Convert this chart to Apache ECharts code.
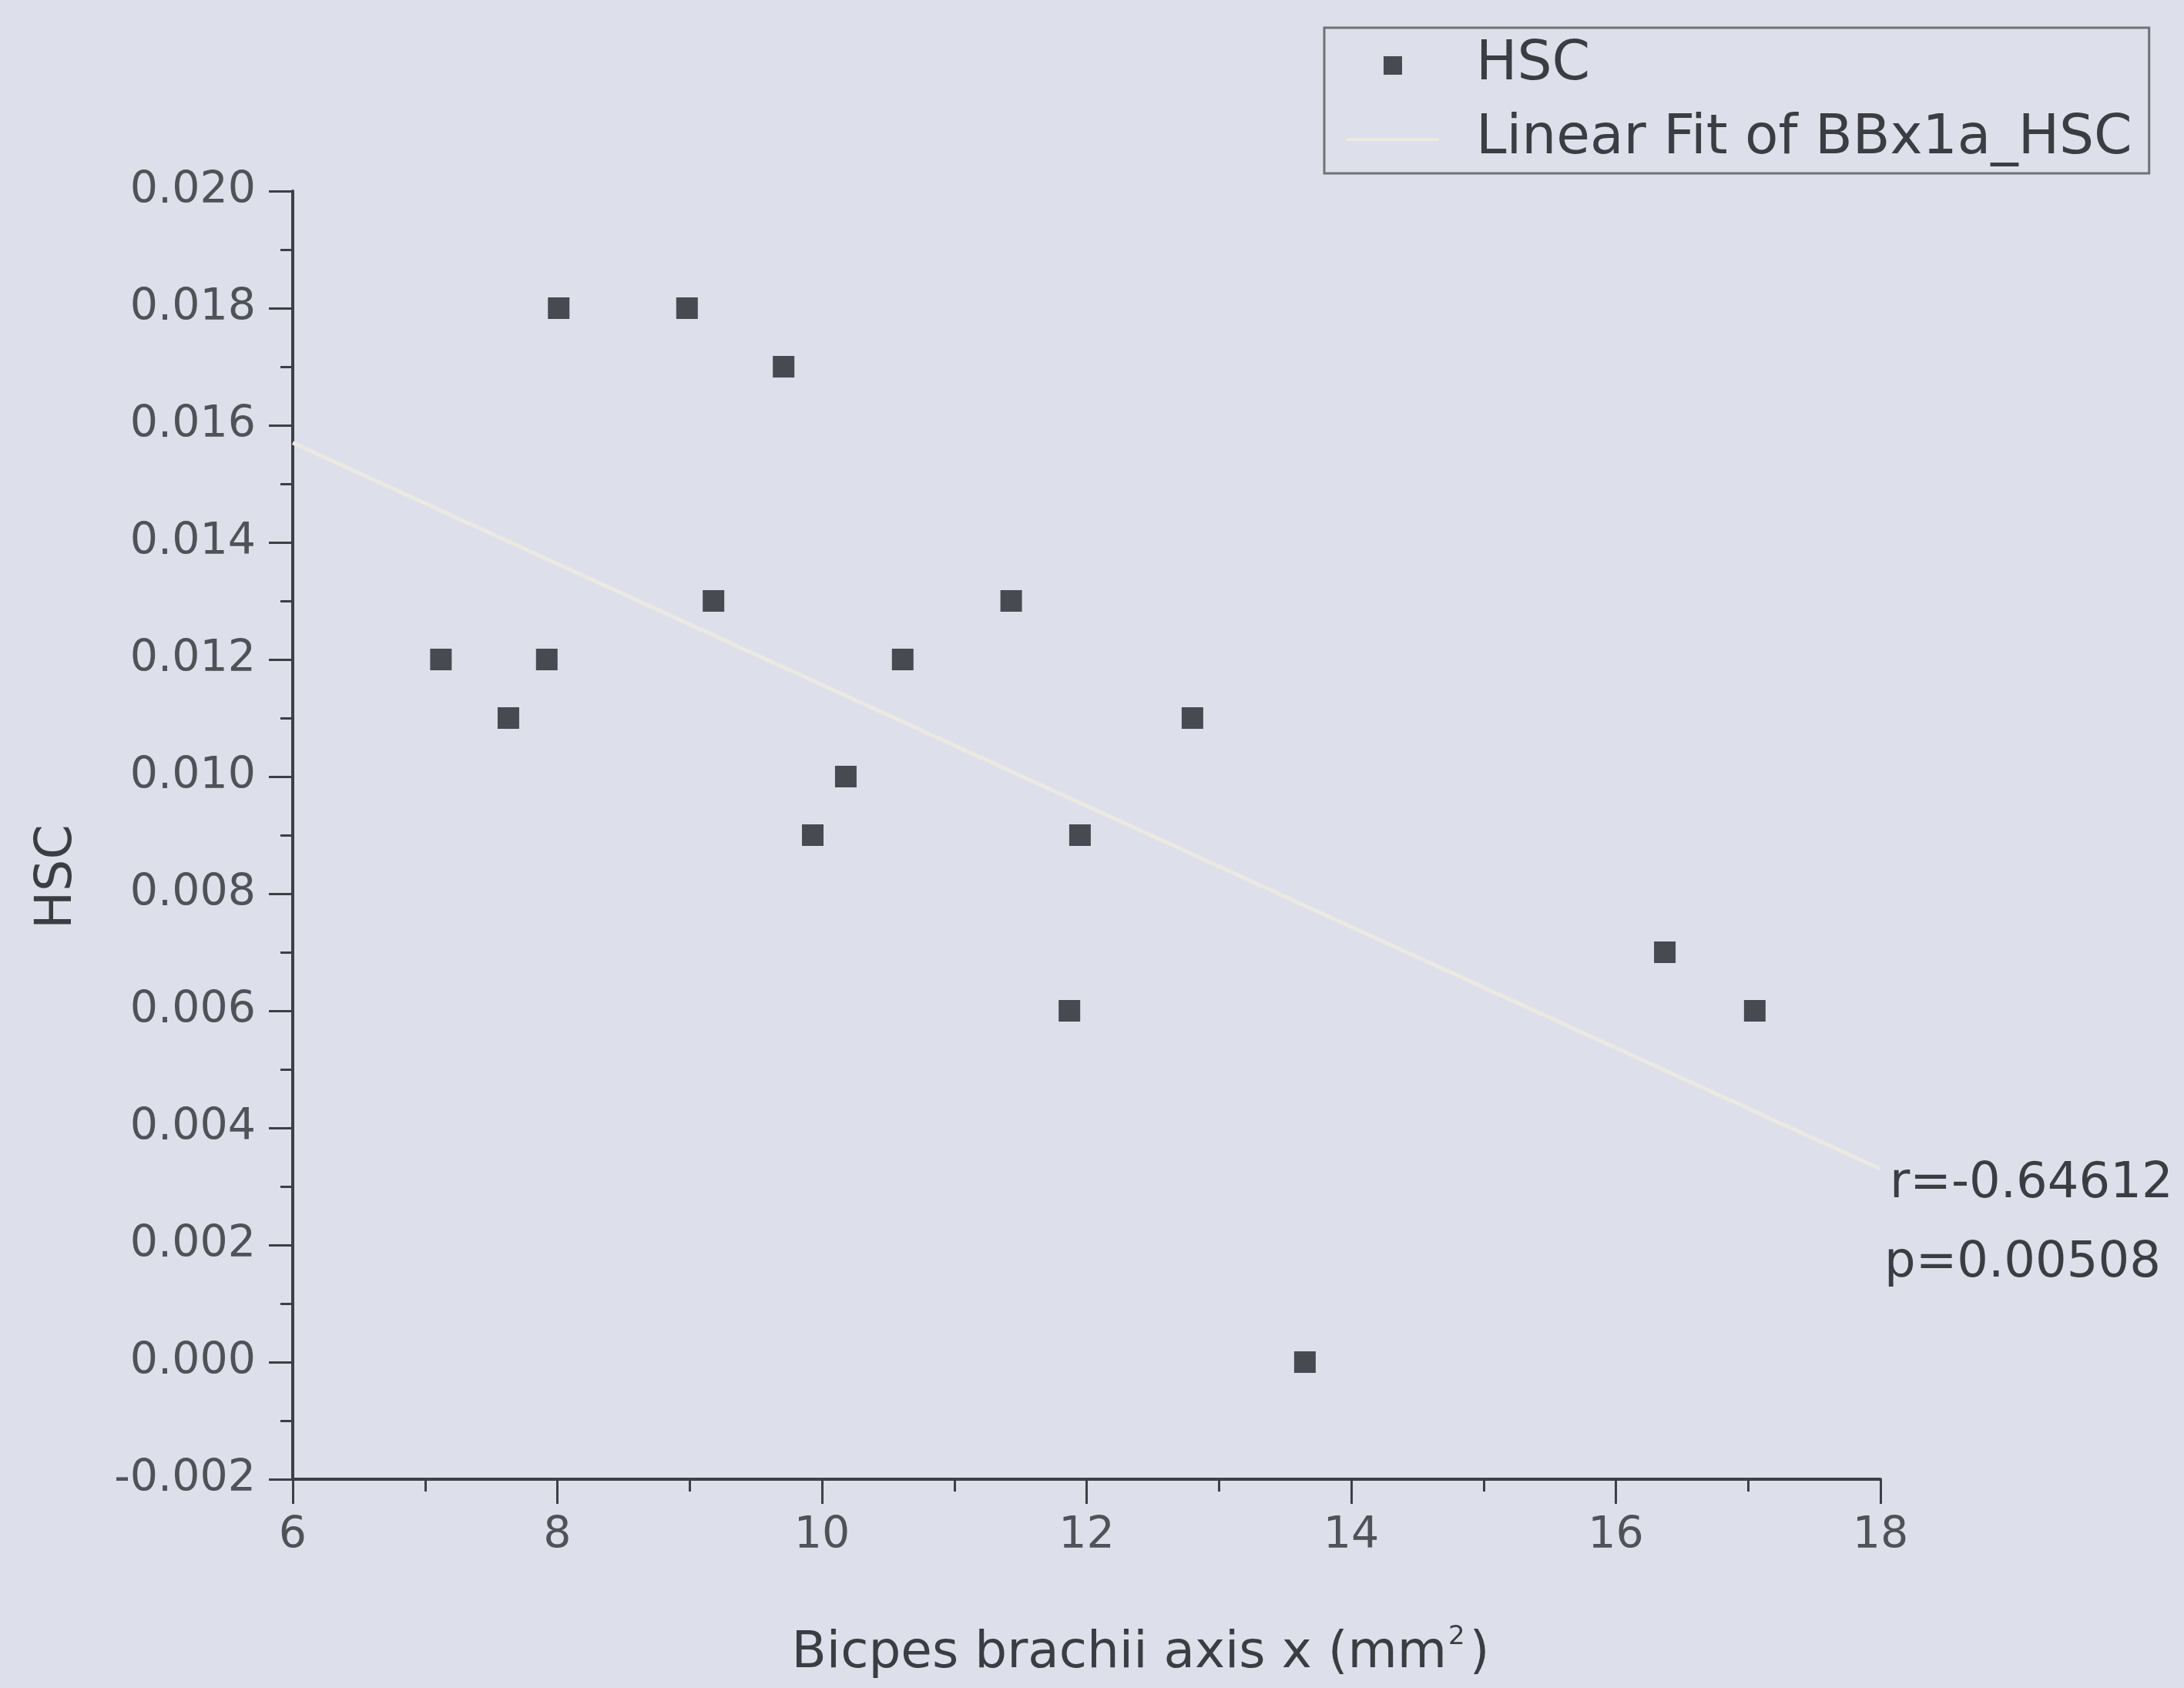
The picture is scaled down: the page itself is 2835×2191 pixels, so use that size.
<!DOCTYPE html>
<html>
<head>
<meta charset="utf-8">
<script src="https://cdn.jsdelivr.net/npm/echarts@6/dist/echarts.min.js"></script>
<style>
  html, body { margin: 0; padding: 0; background: #dde0ea; }
  #chart { width: 2835px; height: 2191px; }
</style>
</head>
<body>
<div id="chart"></div>
<script>
// Cross-sectional area of biceps brachii (x) against HSC per subject
const areaX = [7.12, 7.63, 7.92, 8.01, 8.98, 9.71, 9.18, 10.61, 9.93, 10.18, 11.43, 11.87, 11.95, 12.80, 13.65, 16.37, 17.05];
const hscY  = [0.012, 0.011, 0.012, 0.018, 0.018, 0.017, 0.013, 0.012, 0.009, 0.010, 0.013, 0.006, 0.009, 0.011, 0.000, 0.007, 0.006];

// Linear fit end points across the x range
const fitX = [6, 18];
const fitY = [0.0157, 0.0033];

// Axis ranges
const xRange = { min: 6, max: 18, step: 2 };
const yRange = { min: -0.002, max: 0.020, step: 0.002 };

// Fit statistics
const statLines = ['r=-0.64612', 'p=0.00508'];

const FONT = 'DejaVu Sans';
const TEXT = '#3b3d42';
const AXIS = '#3c3f45';
const FIT = '#ebe9e2';
const MARK = '#22252b';

const chart = echarts.init(document.getElementById('chart'), null, { renderer: 'canvas' });

chart.setOption({
  backgroundColor: '#dde0ea',
  animation: false,
  textStyle: { fontFamily: FONT },
  grid: { left: 380, right: 394, top: 248, bottom: 271, containLabel: false },
  legend: {
    orient: 'vertical',
    left: 1719,
    top: 36,
    padding: [9, 22, 4, 29],
    itemGap: 16,
    itemWidth: 120,
    itemHeight: 24,
    symbolKeepAspect: true,
    borderColor: '#6f7278',
    borderWidth: 3,
    backgroundColor: '#dde0ea',
    textStyle: {
      fontFamily: FONT,
      fontSize: 71,
      lineHeight: 80,
      color: TEXT,
      padding: [0, 0, 0, 43]
    },
    data: [
      { name: 'HSC', icon: 'path://M0 0H10V10H0Z' },
      { name: 'Linear Fit of BBx1a_HSC', icon: 'path://M0 0H120V4H0Z', itemStyle: { color: FIT } }
    ]
  },
  xAxis: {
    type: 'value',
    min: xRange.min,
    max: xRange.max,
    interval: xRange.step,
    name: 'Bicpes brachii axis x (mm{sup|2})',
    nameLocation: 'middle',
    nameGap: 188,
    nameTextStyle: {
      fontFamily: FONT,
      fontSize: 66,
      color: TEXT,
      padding: [0, 0, 0, 140],
      rich: {
        sup: { fontFamily: FONT, fontSize: 34, color: TEXT, verticalAlign: 'top', padding: [0, 6, 44, 2] }
      }
    },
    axisLine: { show: true, onZero: false, lineStyle: { color: AXIS, width: 4 } },
    axisTick: { show: true, inside: false, length: 32, lineStyle: { color: AXIS, width: 3 } },
    minorTick: { show: true, splitNumber: 2, length: 16, lineStyle: { color: AXIS, width: 3 } },
    axisLabel: { fontFamily: FONT, fontSize: 57, color: '#505258', margin: 46 },
    splitLine: { show: false },
    minorSplitLine: { show: false }
  },
  yAxis: {
    type: 'value',
    min: yRange.min,
    max: yRange.max,
    interval: yRange.step,
    name: 'HSC',
    nameLocation: 'middle',
    nameGap: 272,
    nameRotate: 90,
    nameTextStyle: { fontFamily: FONT, fontSize: 65, color: TEXT, padding: [0, 108, 0, 0] },
    axisLine: { show: true, onZero: false, lineStyle: { color: AXIS, width: 4 } },
    axisTick: { show: true, inside: false, length: 31, lineStyle: { color: AXIS, width: 3 } },
    minorTick: { show: true, splitNumber: 2, length: 16, lineStyle: { color: AXIS, width: 3 } },
    axisLabel: {
      fontFamily: FONT,
      fontSize: 57,
      color: '#505258',
      margin: 48,
      formatter: v => v.toFixed(3)
    },
    splitLine: { show: false },
    minorSplitLine: { show: false }
  },
  series: [
    {
      name: 'HSC',
      type: 'scatter',
      symbol: 'rect',
      symbolSize: 28,
      itemStyle: { color: MARK },
      z: 3,
      data: areaX.map((x, i) => [x, hscY[i]])
    },
    {
      name: 'Linear Fit of BBx1a_HSC',
      type: 'line',
      showSymbol: false,
      symbol: 'none',
      lineStyle: { color: FIT, width: 5 },
      itemStyle: { color: FIT },
      z: 2,
      data: fitX.map((x, i) => [x, fitY[i]])
    }
  ],
  graphic: statLines.map((t, i) => ({
    type: 'text',
    x: i === 0 ? 2453 : 2446,
    y: i === 0 ? 1537 : 1640,
    style: {
      text: t,
      font: '64px "DejaVu Sans"',
      fill: TEXT,
      align: 'left',
      verticalAlign: 'middle'
    }
  }))
});
</script>
</body>
</html>
